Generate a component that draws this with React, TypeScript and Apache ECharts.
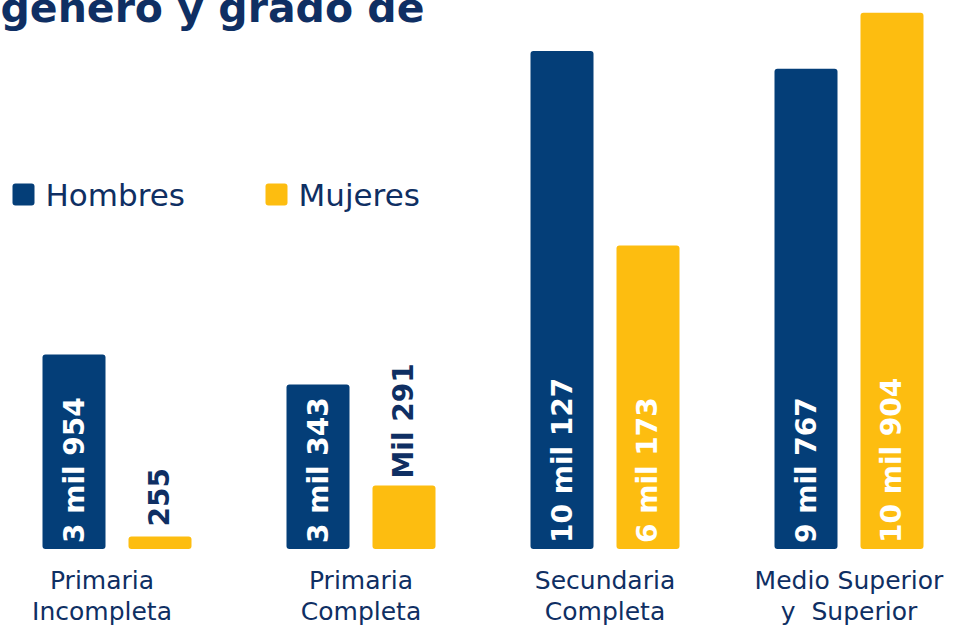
import React, { useEffect, useRef } from "react";
import * as echarts from "echarts";

const categories = ["Primaria\nIncompleta", "Primaria\nCompleta", "Secundaria\nCompleta", "Medio Superior\ny  Superior"];
const hombres = [3954, 3343, 10127, 9767];
const mujeres = [255, 1291, 6173, 10904];
const hombresLabels = ["3 mil 954", "3 mil 343", "10 mil 127", "9 mil 767"];
const mujeresLabels = ["255", "Mil 291", "6 mil 173", "10 mil 904"];
const titleText = "género y grado de";

const BLUE = "#043e78";
const YELLOW = "#fdbd10";
const NAVY = "#0f2f63";
const FONT = "'DejaVu Sans', 'Noto Sans', sans-serif";
const ICON = "path://M3,0H19Q22,0 22,3V19Q22,22 19,22H3Q0,22 0,19V3Q0,0 3,0Z";
const SHIFT = 5.5;

export default function App() {
  const ref = useRef<HTMLDivElement>(null);
  useEffect(() => {
    if (!ref.current) return;
    const chart = echarts.init(ref.current, undefined, { renderer: "svg" });
    const mkData = (vals: number[], labels: string[], topDist: (number | null)[]) =>
      vals.map((v, i) => {
        const d = topDist[i];
        return {
          value: v,
          label:
            d != null
              ? { position: "top", distance: d, color: NAVY, formatter: () => labels[i] }
              : { position: "insideBottom", distance: 6, color: "#ffffff", formatter: () => labels[i] },
        };
      });
    const baseLabel = {
      show: true,
      rotate: 90,
      align: "left",
      verticalAlign: "middle",
      fontFamily: FONT,
      fontWeight: "bold",
      fontSize: 28,
    };
    const legendStyle = {
      top: 179,
      padding: 0,
      itemWidth: 22,
      itemHeight: 22,
      icon: ICON,
      textStyle: { fontFamily: FONT, fontSize: 31, color: NAVY, padding: [0, 0, 0, 6] },
    };
    chart.setOption({
      animation: false,
      backgroundColor: "#ffffff",
      title: {
        text: titleText,
        left: SHIFT - 5,
        top: -18,
        textStyle: { fontFamily: FONT, fontWeight: "bold", fontSize: 41, color: NAVY },
      },
      legend: [
        { ...legendStyle, data: ["Hombres"], left: 12 + SHIFT },
        { ...legendStyle, data: ["Mujeres"], left: 265 + SHIFT },
      ],
      grid: { left: 0, right: 0, top: 8, bottom: 76, containLabel: false },
      xAxis: {
        type: "category",
        data: categories.map((c, i) =>
          i === 0 ? { value: c, textStyle: { padding: [0, 30, 0, 0] } } : c
        ),
        axisLine: { show: false },
        axisTick: { show: false },
        axisLabel: {
          interval: 0,
          margin: 16,
          fontFamily: FONT,
          fontSize: 25,
          lineHeight: 31,
          color: NAVY,
        },
      },
      yAxis: { type: "value", min: 0, max: 11000, show: false, splitLine: { show: false } },
      series: [
        {
          name: "Hombres",
          type: "bar",
          barWidth: 63,
          barGap: "36.5%",
          itemStyle: { color: BLUE, borderRadius: 3 },
          label: baseLabel,
          data: mkData(hombres, hombresLabels, [null, null, null, null]),
        },
        {
          name: "Mujeres",
          type: "bar",
          barWidth: 63,
          itemStyle: { color: YELLOW, borderRadius: 3 },
          label: baseLabel,
          data: mkData(mujeres, mujeresLabels, [10, 7, null, null]),
        },
      ],
    });
    return () => chart.dispose();
  }, []);
  return (
    <div style={{ position: "absolute", left: 0, top: 0, width: 960, height: 627, overflow: "hidden" }}>
      <div ref={ref} style={{ position: "absolute", left: -SHIFT, top: 0, width: 976, height: 627 }} />
    </div>
  );
}
